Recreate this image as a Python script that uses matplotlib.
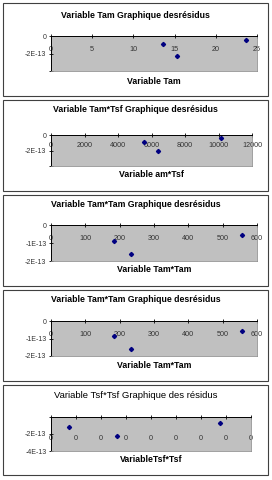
import matplotlib
matplotlib.use("Agg")
import matplotlib.pyplot as plt
from matplotlib.patches import Rectangle

plt.rcParams['font.family'] = ['Liberation Sans', 'DejaVu Sans']

W, H = 272, 480

# ---- data ----
titles = ["Variable Tam Graphique desrésidus",
          "Variable Tam*Tsf Graphique desrésidus",
          "Variable Tam*Tam Graphique desrésidus",
          "Variable Tam*Tam Graphique desrésidus",
          "Variable Tsf*Tsf Graphique des résidus"]
xlabels = ["Variable Tam", "Variable am*Tsf", "Variable Tam*Tam",
           "Variable Tam*Tam", "VariableTsf*Tsf"]

tam = [13.6, 15.3, 23.7]
tam_res = [-0.95e-13, -2.3e-13, -0.45e-13]

tam_tsf = [5580, 6410, 10120]
tam_tsf_res = [-0.9e-13, -2.1e-13, -0.45e-13]

tam_tam = [184, 233, 556]
tam_tam_res = [-0.87e-13, -1.62e-13, -0.55e-13]

tsf_tsf = [0.7, 2.65, 6.75]
tsf_tsf_res = [-1.17e-13, -2.25e-13, -0.7e-13]

xs = [tam, tam_tsf, tam_tam, tam_tam, tsf_tsf]
ys = [tam_res, tam_tsf_res, tam_tam_res, tam_tam_res, tsf_tsf_res]

xticks = [[0, 5, 10, 15, 20, 25],
          [0, 2000, 4000, 6000, 8000, 10000, 12000],
          [0, 100, 200, 300, 400, 500, 600],
          [0, 100, 200, 300, 400, 500, 600],
          [0, 1, 2, 3, 4, 5, 6, 7, 8]]
xticklabels = [[str(v) for v in xticks[0]],
               [str(v) for v in xticks[1]],
               [str(v) for v in xticks[2]],
               [str(v) for v in xticks[3]],
               ["0"] * 9]
yticks = [[0, -2e-13, -4e-13],
          [0, -2e-13, -4e-13],
          [0, -1e-13, -2e-13],
          [0, -1e-13, -2e-13],
          [0, -2e-13, -4e-13]]
yticklabels = [["0", "-2E-13", ""],
               ["0", "-2E-13", ""],
               ["0", "-1E-13", "-2E-13"],
               ["0", "-1E-13", "-2E-13"],
               ["", "-2E-13", "-4E-13"]]

# ---- layout (pixels, top-left origin) ----
boxes = [(3, 96), (100, 191), (195, 286), (290, 381), (385, 475)]
plots = [(51, 257, 36, 71), (51, 252, 135, 166), (51, 257, 225, 261),
         (51, 257, 321, 356), (51, 251, 417, 451)]
title_y = [15, 110, 205, 300, 395]
xlabel_y = [82, 175, 270, 365, 460]
label_pad = [-14, -12, -14, -14, -20]
title_weight = ['bold', 'bold', 'bold', 'bold', 'normal']
title_size = [6.3, 6.3, 6.3, 6.3, 6.8]

fig = plt.figure(figsize=(W / 100, H / 100), dpi=100)
fig.patch.set_facecolor('white')

for i in range(5):
    top, bot = boxes[i]
    fig.patches.append(Rectangle((3 / W, 1 - bot / H), 265 / W, (bot - top) / H,
                                 transform=fig.transFigure, facecolor='white',
                                 edgecolor='#404040', linewidth=0.8, zorder=-1))

    x0, x1, y0, y1 = plots[i]
    ax = fig.add_axes([x0 / W, 1 - y1 / H, (x1 - x0) / W, (y1 - y0) / H])
    ax.set_zorder(2)
    ax.set_facecolor('#c0c0c0')
    ax.plot(xs[i], ys[i], linestyle='none', marker='D', markersize=2.1,
            color='#000080')

    ax.set_xlim(xticks[i][0], xticks[i][-1])
    ax.set_ylim(yticks[i][-1], yticks[i][0])
    ax.set_xticks(xticks[i])
    ax.set_xticklabels(xticklabels[i])
    ax.set_yticks(yticks[i])
    ax.set_yticklabels(yticklabels[i])

    ax.tick_params(axis='x', top=True, bottom=False, labeltop=True,
                   labelbottom=False, direction='inout', length=3.5,
                   width=0.6, pad=label_pad[i], labelsize=5.2,
                   labelcolor='#333333')
    ax.tick_params(axis='y', direction='inout', length=3.5, width=0.6,
                   pad=1.5, labelsize=5.0, labelcolor='#333333')

    ax.spines['top'].set_color('black')
    ax.spines['top'].set_linewidth(0.7)
    ax.spines['left'].set_color('black')
    ax.spines['left'].set_linewidth(0.7)
    ax.spines['right'].set_color('#909090')
    ax.spines['bottom'].set_color('#909090')
    ax.spines['right'].set_linewidth(0.6)
    ax.spines['bottom'].set_linewidth(0.6)

    fig.text(135.5 / W, 1 - title_y[i] / H, titles[i], ha='center', va='center',
             fontsize=title_size[i], fontweight=title_weight[i])
    fig.text(((x0 + x1) / 2) / W, 1 - xlabel_y[i] / H, xlabels[i],
             ha='center', va='center', fontsize=6.3, fontweight='bold')

fig.savefig('out.png', dpi=100)
